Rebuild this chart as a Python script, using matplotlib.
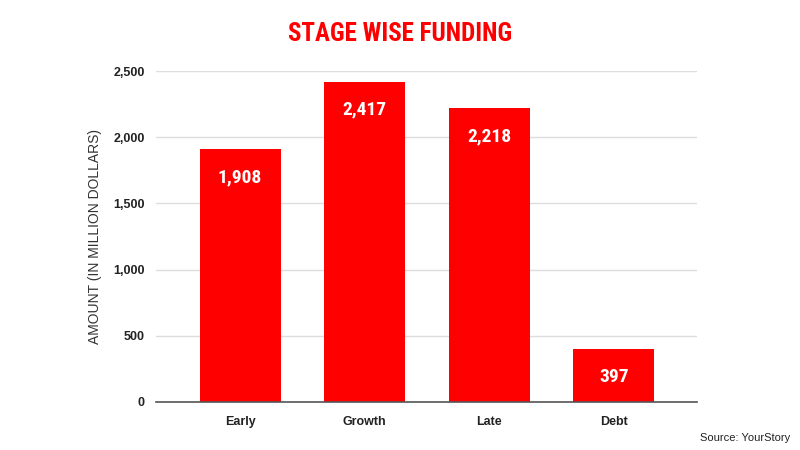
import matplotlib
matplotlib.use("Agg")
import matplotlib.pyplot as plt
from matplotlib.ticker import FuncFormatter

categories = ["Early", "Growth", "Late", "Debt"]
values = [1908, 2417, 2218, 397]
yticks = [0, 500, 1000, 1500, 2000, 2500]

plt.rcParams['font.family'] = ['Liberation Sans', 'DejaVu Sans']
narrow = ['Liberation Sans Narrow', 'DejaVu Sans Condensed', 'Roboto Condensed', 'Liberation Sans']

fig = plt.figure(figsize=(8, 4.5), dpi=100)
ax = fig.add_axes([0.195, 0.1067, 0.676, 0.7353])

x = range(len(categories))
ax.bar(x, values, width=0.65, color="#ff0000", zorder=3)
for xi, v in zip(x, values):
    ax.annotate(f"{v:,}", (xi, v), xytext=(0, -20), textcoords="offset points",
                ha="center", va="center", color="white", fontsize=14,
                fontweight="bold", family=narrow, zorder=4)

ax.set_xlim(-0.675, 3.665)
ax.set_ylim(0, 2500)
ax.set_yticks(yticks)
ax.yaxis.set_major_formatter(FuncFormatter(lambda v, p: f"{int(v):,}"))
ax.set_xticks(list(x))
ax.set_xticklabels(categories)
for lab in ax.get_xticklabels() + ax.get_yticklabels():
    lab.set_fontweight("bold")
    lab.set_fontsize(9)
    lab.set_color("#222222")
ax.tick_params(axis="both", length=0)
ax.tick_params(axis="x", pad=10)
ax.tick_params(axis="y", pad=8)
ax.grid(axis="y", color="#dddddd", linewidth=1, zorder=0)
for s in ["top", "right", "left"]:
    ax.spines[s].set_visible(False)
ax.spines["bottom"].set_color("#555555")
ax.spines["bottom"].set_linewidth(1.2)
ax.spines["bottom"].set_zorder(5)

ax.set_ylabel("AMOUNT (IN MILLION DOLLARS)", fontsize=10, color="#333333", labelpad=8)

fig.text(0.5, 0.925, "STAGE WISE FUNDING", ha="center", va="center", color="#ff0000",
         fontsize=18, fontweight="bold", family=narrow)
fig.text(0.988, 0.027, "Source: YourStory", ha="right", va="center", fontsize=8, color="#222222")

fig.savefig("out.png", dpi=100, facecolor="white")
